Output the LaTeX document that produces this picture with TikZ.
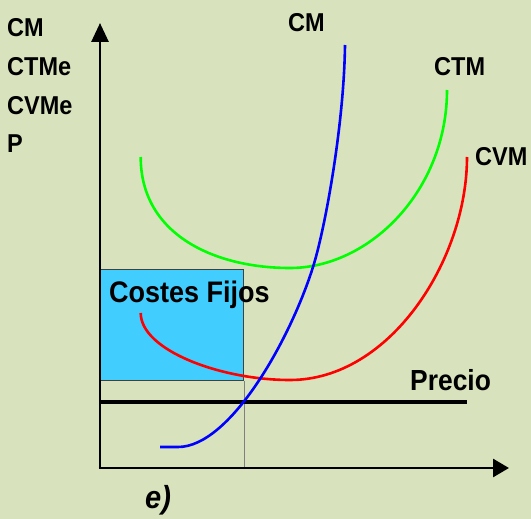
\documentclass[tikz,border=0pt]{standalone}
\usepackage{fontspec}
\setmainfont{Liberation Sans}
\usetikzlibrary{arrows.meta}
\definecolor{bg}{RGB}{216,227,190}
\definecolor{cfill}{RGB}{66,205,255}
\definecolor{cgreen}{RGB}{0,255,0}
\definecolor{cred}{RGB}{255,0,0}
\definecolor{cblue}{RGB}{0,0,255}
\newcommand{\vstr}[1]{\scalebox{1}[1.1]{#1}}
\tikzset{
  lbl/.style={anchor=base west, inner sep=0pt, font=\bfseries\fontsize{23.5}{24}\selectfont},
  axisline/.style={line width=2.8pt},
  curve/.style={line width=2.6pt},
}
\begin{document}
\begin{tikzpicture}[x=1pt,y=-1pt]
\fill[bg] (0,0) rectangle (531,519);
\useasboundingbox (0,0) rectangle (531,519);
% coordinates
\coordinate (o) at (100,468);
\coordinate (ytip) at (100,23);
\coordinate (xtip) at (509,468);
\coordinate (pl) at (100,402);
\coordinate (pr) at (467,402);
% fixed costs box
\node[draw=black!75, line width=0.8pt, fill=cfill, minimum width=143pt, minimum height=111pt, inner sep=0pt, anchor=north west] (box) at (100,269) {};
\draw[gray, line width=0.6pt] (box.south east) -- (box.south east |- o);
% price line
\draw[line width=4pt] (pl) -- (pr);
% curves
\draw[cgreen, curve] (140.7,157) .. controls (140.7,235) and (215,268) .. (290,268)
   .. controls (370,268) and (447,190) .. (447,90);
\draw[cred, curve] (140.7,313) .. controls (140.7,350) and (220,380) .. (290,380)
   .. controls (390,380) and (467,260) .. (467,157);
\draw[cblue, curve] (160,447) -- (178,447) .. controls (230,447) and (290,340) .. (313,267)
   .. controls (325,229) and (344,125) .. (345,45);
% axes
\draw[axisline, -{Triangle[length=19pt,width=17pt]}] (o) -- (ytip);
\draw[axisline, -{Triangle[length=16pt,width=18pt]}] ([xshift=-1.4pt]o) -- (xtip);
% labels
\node[lbl] (lcm) at (7,37) {\vstr{CM}};
\node[lbl] (lctme) at (7,76) {\vstr{CTMe}};
\node[lbl] (lcvme) at (7,114) {\vstr{CVMe}};
\node[lbl] (lp) at (7,153) {\vstr{P}};
\node[lbl] (tcm) at (288,32) {\vstr{CM}};
\node[lbl] (tctm) at (434,76) {\vstr{CTM}};
\node[lbl] (tcvm) at (475,165) {\vstr{CVM}};
\node[lbl, font=\bfseries\fontsize{26.4}{27}\selectfont] (tprecio) at (410,390) {\vstr{Precio}};
\node[lbl, font=\bfseries\fontsize{27}{28}\selectfont] (tcf) at (109,302) {\vstr{Costes Fijos}};
\node[lbl, font=\bfseries\itshape\fontsize{29}{30}\selectfont] (te) at (145,508) {\vstr{e)}};
\end{tikzpicture}
\end{document}
